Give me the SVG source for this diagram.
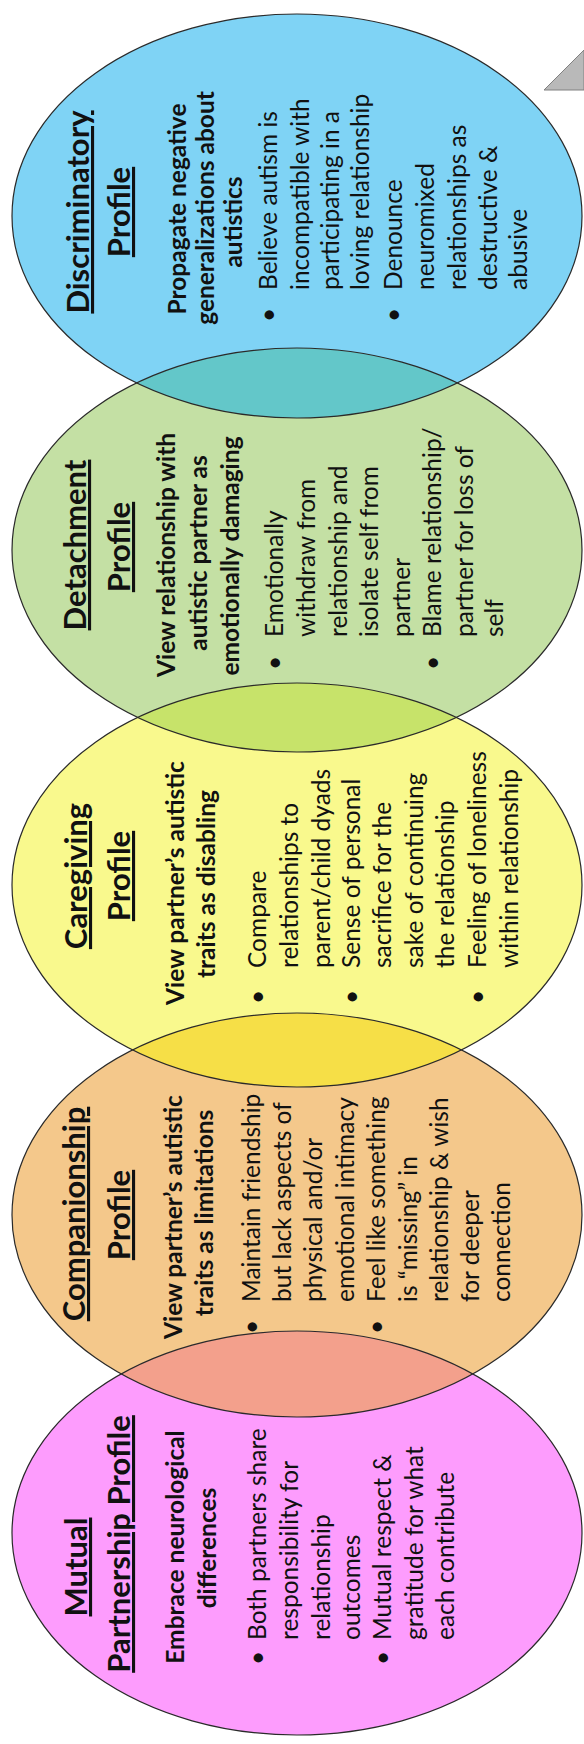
<svg xmlns="http://www.w3.org/2000/svg" width="584" height="1744" viewBox="0 0 584 1744">
<style>
text{font-family:Lato,"Liberation Sans",sans-serif;fill:#111}
.t{font-size:31px;font-weight:700;text-anchor:middle;text-decoration:underline}
.s{font-size:24.5px;font-weight:700;text-anchor:middle}
.b{font-size:24.5px;font-weight:400}
.d{font-size:24.5px;font-weight:400;text-anchor:middle}
.ol{fill:none;stroke:#2a2a2a;stroke-width:1.2}
</style>
<defs>
<clipPath id="cBlue"><ellipse cx="297" cy="216" rx="285" ry="202"/></clipPath>
<clipPath id="cGreen"><ellipse cx="297" cy="550" rx="285" ry="202"/></clipPath>
<clipPath id="cYellow"><ellipse cx="297" cy="885" rx="285" ry="202"/></clipPath>
<clipPath id="cOrange"><ellipse cx="297" cy="1215" rx="285" ry="202"/></clipPath>
</defs>
<rect width="584" height="1744" fill="#fff"/>
<g id="arrow-fragment">
<polygon points="544,90 584,50 584,90" fill="#b9b9b9" stroke="#808080" stroke-width="1"/>
</g>
<g id="discriminatory">
<ellipse cx="297" cy="216" rx="285" ry="202" fill="#7fd3f5"/>
</g>
<g id="detachment">
<ellipse cx="297" cy="550" rx="285" ry="202" fill="#c4e0a4"/>
<ellipse cx="297" cy="550" rx="285" ry="202" fill="#63c7c9" clip-path="url(#cBlue)"/>
</g>
<g id="caregiving">
<ellipse cx="297" cy="885" rx="285" ry="202" fill="#f9f98d"/>
<ellipse cx="297" cy="885" rx="285" ry="202" fill="#c7e36a" clip-path="url(#cGreen)"/>
</g>
<g id="companionship">
<ellipse cx="297" cy="1215" rx="285" ry="202" fill="#f4c88b"/>
<ellipse cx="297" cy="1215" rx="285" ry="202" fill="#f6df47" clip-path="url(#cYellow)"/>
</g>
<g id="mutual-partnership">
<ellipse cx="297" cy="1533" rx="285" ry="202" fill="#fd9cfd"/>
<ellipse cx="297" cy="1533" rx="285" ry="202" fill="#f3a08c" clip-path="url(#cOrange)"/>
</g>
<g id="outlines">
<ellipse class="ol" cx="297" cy="216" rx="285" ry="202"/>
<ellipse class="ol" cx="297" cy="550" rx="285" ry="202"/>
<ellipse class="ol" cx="297" cy="885" rx="285" ry="202"/>
<ellipse class="ol" cx="297" cy="1215" rx="285" ry="202"/>
<ellipse class="ol" cx="297" cy="1533" rx="285" ry="202"/>
</g>
<g id="connectors"/>
<g id="labels" transform="rotate(-90)">
<g id="discriminatory-text">
<text class="t" x="-212" y="89">Discriminatory</text>
<text class="t" x="-212" y="130">Profile</text>
<text class="s" x="-209" y="186">Propagate negative</text>
<text class="s" x="-208" y="214">generalizations about</text>
<text class="s" x="-222" y="242">autistics</text>
<text class="d" x="-315" y="277">•</text>
<text class="b" x="-290" y="277">Believe autism is</text>
<text class="b" x="-290" y="309">incompatible with</text>
<text class="b" x="-290" y="339">participating in a</text>
<text class="b" x="-290" y="369">loving relationship</text>
<text class="d" x="-315" y="402">•</text>
<text class="b" x="-290" y="402">Denounce</text>
<text class="b" x="-290" y="434">neuromixed</text>
<text class="b" x="-290" y="466">relationships as</text>
<text class="b" x="-290" y="497">destructive &amp;</text>
<text class="b" x="-290" y="527">abusive</text>
</g>
<g id="detachment-text">
<text class="t" x="-545" y="86">Detachment</text>
<text class="t" x="-547" y="130">Profile</text>
<text class="s" x="-555" y="175">View relationship with</text>
<text class="s" x="-553" y="207">autistic partner as</text>
<text class="s" x="-556" y="239">emotionally damaging</text>
<text class="d" x="-663" y="283">•</text>
<text class="b" x="-637" y="283">Emotionally</text>
<text class="b" x="-637" y="315">withdraw from</text>
<text class="b" x="-637" y="347">relationship and</text>
<text class="b" x="-637" y="378">isolate self from</text>
<text class="b" x="-637" y="410">partner</text>
<text class="d" x="-663" y="441">•</text>
<text class="b" x="-637" y="441">Blame relationship/</text>
<text class="b" x="-637" y="473">partner for loss of</text>
<text class="b" x="-637" y="503">self</text>
</g>
<g id="caregiving-text">
<text class="t" x="-876" y="87">Caregiving</text>
<text class="t" x="-876" y="130">Profile</text>
<text class="s" x="-883" y="184">View partner’s autistic</text>
<text class="s" x="-884" y="215">traits as disabling</text>
<text class="d" x="-997" y="266">•</text>
<text class="b" x="-968" y="266">Compare</text>
<text class="b" x="-968" y="298">relationships to</text>
<text class="b" x="-968" y="330">parent/child dyads</text>
<text class="d" x="-997" y="360">•</text>
<text class="b" x="-968" y="360">Sense of personal</text>
<text class="b" x="-968" y="391">sacrifice for the</text>
<text class="b" x="-968" y="423">sake of continuing</text>
<text class="b" x="-968" y="454">the relationship</text>
<text class="d" x="-997" y="486">•</text>
<text class="b" x="-968" y="486">Feeling of loneliness</text>
<text class="b" x="-968" y="518">within relationship</text>
</g>
<g id="companionship-text">
<text class="t" x="-1214" y="85">Companionship</text>
<text class="t" x="-1215" y="130">Profile</text>
<text class="s" x="-1217" y="182">View partner’s autistic</text>
<text class="s" x="-1213" y="213">traits as limitations</text>
<text class="d" x="-1327" y="260">•</text>
<text class="b" x="-1302" y="260">Maintain friendship</text>
<text class="b" x="-1302" y="291">but lack aspects of</text>
<text class="b" x="-1302" y="322">physical and/or</text>
<text class="b" x="-1302" y="354">emotional intimacy</text>
<text class="d" x="-1327" y="385">•</text>
<text class="b" x="-1302" y="385">Feel like something</text>
<text class="b" x="-1302" y="417">is “missing” in</text>
<text class="b" x="-1302" y="448">relationship &amp; wish</text>
<text class="b" x="-1302" y="479">for deeper</text>
<text class="b" x="-1302" y="510">connection</text>
</g>
<g id="mutual-partnership-text">
<text class="t" x="-1567" y="87">Mutual</text>
<text class="t" x="-1544" y="130">Partnership Profile</text>
<text class="s" x="-1547" y="184">Embrace neurological</text>
<text class="s" x="-1548" y="216">differences</text>
<text class="d" x="-1658" y="266">•</text>
<text class="b" x="-1640" y="266">Both partners share</text>
<text class="b" x="-1640" y="298">responsibility for</text>
<text class="b" x="-1640" y="330">relationship</text>
<text class="b" x="-1640" y="360">outcomes</text>
<text class="d" x="-1658" y="391">•</text>
<text class="b" x="-1640" y="391">Mutual respect &amp;</text>
<text class="b" x="-1640" y="423">gratitude for what</text>
<text class="b" x="-1640" y="454">each contribute</text>
</g>
</g>
</svg>
